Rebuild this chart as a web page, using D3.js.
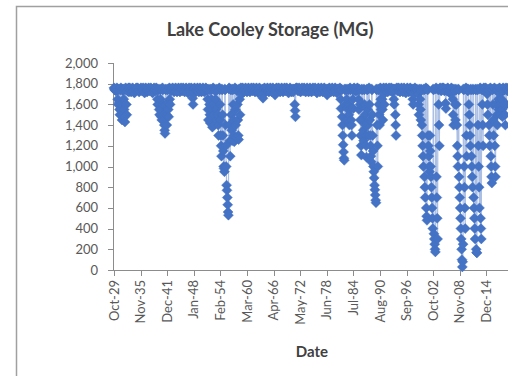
<!DOCTYPE html>
<html>
<head>
<meta charset="utf-8">
<script src="https://cdn.jsdelivr.net/npm/d3@7"></script>
<style>
  html, body { margin: 0; padding: 0; background: #fff; }
  svg { display: block; font-family: Lato, "Open Sans", sans-serif; }
</style>
</head>
<body>
<svg id="chart" width="508" height="376"></svg>
<script>
// monthly storage (MG), first row starts Oct 1929, later rows are Jan..Dec
const firstMonth = "1929-10";
const storageRows = [
  [1760,1750,1740],
  [1750,1740,1730,1740,1750,1760,1740,1650,1600,1750,1740,1620], // 1930
  [1550,1500,1750,1740,1760,1600,1500,1450,1750,1740,1730,1750],
  [1650,1550,1480,1430,1750,1760,1740,1600,1500,1750,1740,1730],
  [1750,1760,1720,1750,1760,1750,1740,1730,1720,1730,1740,1750],
  [1760,1750,1740,1730,1720,1710,1720,1730,1740,1750,1760,1750],
  [1740,1750,1760,1750,1740,1730,1720,1730,1740,1750,1750,1760],
  [1750,1740,1730,1740,1750,1760,1750,1740,1720,1710,1730,1750],
  [1760,1750,1740,1730,1720,1730,1740,1750,1760,1750,1740,1730],
  [1740,1750,1760,1750,1740,1730,1720,1710,1720,1740,1750,1760],
  [1750,1740,1730,1740,1750,1760,1750,1740,1650,1600,1750,1740],
  [1600,1550,1500,1750,1740,1650,1550,1480,1450,1750,1760,1740], // 1940
  [1600,1500,1450,1400,1350,1320,1750,1740,1600,1500,1400,1750],
  [1740,1620,1550,1480,1750,1760,1650,1600,1750,1740,1730,1750],
  [1740,1750,1760,1750,1740,1730,1720,1730,1740,1750,1760,1750],
  [1740,1730,1720,1730,1740,1750,1760,1750,1740,1730,1720,1740],
  [1750,1760,1750,1740,1730,1740,1750,1760,1750,1740,1730,1720],
  [1730,1740,1750,1760,1750,1740,1730,1720,1710,1730,1750,1760],
  [1750,1740,1730,1740,1750,1760,1740,1720,1750,1660,1600,1750],
  [1720,1750,1760,1750,1740,1730,1720,1730,1740,1750,1760,1750],
  [1740,1730,1720,1740,1750,1760,1750,1740,1730,1720,1730,1740],
  [1750,1760,1750,1740,1730,1720,1730,1740,1750,1760,1750,1740], // 1950
  [1750,1740,1650,1550,1450,1750,1740,1600,1500,1420,1750,1740],
  [1650,1550,1450,1380,1750,1760,1600,1500,1400,1750,1740,1730],
  [1650,1550,1450,1750,1740,1600,1500,1400,1300,1750,1760,1740],
  [1600,1450,1300,1200,1100,1750,1740,1500,1300,1150,1000,980],
  [950,1750,1740,1400,1200,1000,820,770,700,630,560,530],
  [1750,1760,1400,1250,1100,1750,1740,1500,1350,1250,1750,1740],
  [1600,1450,1300,1240,1750,1760,1550,1400,1280,1750,1740,1730],
  [1600,1450,1300,1260,1750,1740,1650,1500,1750,1760,1750,1740],
  [1700,1750,1760,1750,1740,1730,1720,1730,1740,1750,1760,1750],
  [1740,1730,1720,1730,1740,1750,1760,1750,1740,1730,1720,1730], // 1960
  [1740,1750,1760,1750,1740,1730,1740,1750,1760,1750,1740,1730],
  [1720,1730,1740,1750,1760,1750,1740,1730,1720,1710,1730,1750],
  [1760,1750,1740,1730,1720,1730,1740,1720,1750,1700,1660,1750],
  [1740,1750,1760,1750,1740,1730,1720,1730,1740,1750,1760,1750],
  [1740,1730,1720,1730,1740,1750,1760,1750,1740,1730,1720,1740],
  [1750,1760,1750,1740,1730,1720,1710,1690,1750,1730,1750,1760],
  [1750,1740,1730,1740,1750,1760,1750,1740,1730,1720,1730,1740],
  [1750,1760,1750,1740,1730,1720,1730,1740,1750,1760,1750,1740],
  [1730,1740,1750,1760,1750,1740,1730,1720,1710,1730,1740,1750],
  [1760,1750,1740,1730,1720,1730,1740,1750,1740,1720,1750,1740], // 1970
  [1750,1600,1540,1480,1750,1760,1750,1760,1750,1740,1730,1740],
  [1750,1760,1750,1740,1730,1720,1730,1740,1750,1760,1750,1740],
  [1730,1740,1750,1760,1750,1740,1730,1720,1730,1740,1750,1760],
  [1750,1740,1730,1720,1730,1740,1750,1760,1750,1740,1730,1720],
  [1730,1740,1750,1760,1750,1740,1730,1740,1750,1760,1750,1740],
  [1730,1720,1710,1730,1740,1750,1760,1750,1740,1730,1720,1730],
  [1740,1750,1760,1750,1740,1730,1720,1730,1740,1750,1760,1750],
  [1740,1730,1720,1730,1740,1750,1690,1750,1740,1710,1730,1750],
  [1760,1750,1740,1730,1720,1730,1740,1750,1760,1750,1740,1730],
  [1720,1730,1740,1750,1760,1750,1740,1730,1720,1710,1730,1750], // 1980
  [1750,1740,1730,1740,1750,1760,1740,1650,1560,1750,1740,1480],
  [1400,1300,1210,1140,1080,1060,1750,1740,1600,1450,1750,1740],
  [1650,1560,1450,1750,1740,1600,1500,1400,1750,1760,1740,1560],
  [1450,1400,1300,1750,1740,1650,1560,1750,1760,1750,1740,1730],
  [1750,1740,1730,1740,1750,1760,1740,1750,1650,1550,1750,1740],
  [1600,1450,1300,1200,1110,1750,1740,1600,1450,1350,1250,1750],
  [1740,1600,1500,1400,1300,1200,1090,1750,1740,1550,1400,1300],
  [1750,1760,1600,1450,1300,1200,1100,1045,1750,1740,1500,1300],
  [1150,1000,950,890,820,775,725,675,650,1750,1740,1400],
  [1200,1000,1750,1740,1600,1500,1400,1750,1760,1650,1550,1750], // 1990
  [1740,1650,1550,1450,1750,1760,1700,1600,1750,1740,1730,1750],
  [1760,1750,1740,1730,1720,1730,1740,1750,1760,1750,1740,1730],
  [1740,1750,1760,1750,1740,1720,1740,1750,1750,1650,1600,1750],
  [1740,1500,1400,1300,1750,1760,1750,1740,1730,1750,1760,1750],
  [1740,1730,1720,1730,1740,1750,1760,1750,1740,1730,1720,1740],
  [1750,1760,1750,1740,1730,1720,1710,1730,1740,1750,1760,1750],
  [1740,1730,1720,1730,1740,1750,1760,1750,1740,1730,1720,1730],
  [1750,1650,1600,1750,1700,1740,1750,1760,1750,1740,1730,1740],
  [1750,1740,1730,1740,1700,1600,1500,1750,1740,1650,1550,1450],
  [1750,1740,1400,1300,1200,1100,1000,1750,1740,900,800,700], // 2000
  [1750,1760,600,520,480,1750,1740,1300,1200,1100,1000,950],
  [1300,1150,1000,900,800,700,600,500,400,1750,1740,350],
  [300,250,200,175,1750,1760,900,700,500,300,1750,1740],
  [1600,1400,1200,1750,1760,1750,1740,1730,1740,1750,1760,1750],
  [1750,1760,1750,1740,1730,1740,1750,1610,1560,1750,1740,1730],
  [1750,1760,1750,1740,1730,1720,1710,1730,1740,1730,1750,1760],
  [1750,1740,1730,1650,1500,1400,1750,1740,1730,1600,1450,1750],
  [1740,1600,1400,1200,1100,1000,1750,1740,900,800,700,600],
  [500,400,300,200,100,30,80,250,1750,1740,1000,800],
  [600,400,1750,1760,1300,1100,1750,1740,1730,1750,1740,1600], // 2010
  [1500,1400,1300,1200,1750,1740,1100,1000,900,800,1750,1740],
  [700,600,500,400,300,1750,1740,200,170,165,1750,1740],
  [1400,1200,1000,800,600,1750,1760,500,400,300,1750,1740],
  [1600,1400,1200,1750,1760,1750,1740,1730,1750,1760,1750,1740],
  [1740,1700,1600,1500,1750,1740,1400,1300,1200,1750,1760,1100],
  [1000,900,840,1750,1740,1600,1450,1300,1750,1760,1200,1000],
  [900,1750,1740,1600,1500,1400,1750,1740,1650,1550,1750,1760],
  [1700,1600,1500,1750,1740,1650,1550,1480,1750,1760,1740,1600],
  [1750,1740,1500,1400,1750,1760,1600,1750,1740,1730,1750,1760],
  [1750,1740,1730,1720,1740,1750,1760,1750,1740,1730,1720,1740]  // 2020
];

const tickMonths = ["1929-10","1935-11","1941-12","1948-01","1954-02","1960-03","1966-04",
  "1972-05","1978-06","1984-07","1990-08","1996-09","2002-10","2008-11","2014-12"];
const tickLabels = ["Oct-29","Nov-35","Dec-41","Jan-48","Feb-54","Mar-60","Apr-66",
  "May-72","Jun-78","Jul-84","Aug-90","Sep-96","Oct-02","Nov-08","Dec-14"];
const axisEndMonth = "2021-01";
const yTicks = [0, 200, 400, 600, 800, 1000, 1200, 1400, 1600, 1800, 2000];

const parseMonth = d3.timeParse("%Y-%m");
const start = parseMonth(firstMonth);
const data = storageRows.flat().map((v, i) => ({date: d3.timeMonth.offset(start, i), value: v}));
const tickDates = tickMonths.map(parseMonth);

const margin = {left: 114, top: 63, bottom: 270};
const x = d3.scaleTime().domain([tickDates[0], parseMonth(axisEndMonth)]).range([margin.left, 513]);
const y = d3.scaleLinear().domain([0, 2000]).range([margin.bottom, margin.top]);

const svg = d3.select("#chart");
const blue = "#4472c4";
const textColor = "#595959";
const axisColor = "#8c8c8c";

// chart frame (runs past the right and bottom edges)
svg.append("rect")
  .attr("x", 16.5).attr("y", 6.5)
  .attr("width", 600).attr("height", 400)
  .attr("fill", "#fff")
  .attr("stroke", "#a0a0a0")
  .attr("stroke-width", 1.5);

svg.append("text")
  .attr("x", 270).attr("y", 36)
  .attr("text-anchor", "middle")
  .attr("font-weight", "bold")
  .attr("font-size", 18)
  .attr("fill", "#404040")
  .text("Lake Cooley Storage (MG)");

// y axis
const yAxis = svg.append("g");
yAxis.append("line")
  .attr("x1", margin.left - 0.5).attr("x2", margin.left - 0.5)
  .attr("y1", y(2000)).attr("y2", y(0))
  .attr("stroke", axisColor);
yAxis.selectAll(".tick")
  .data(yTicks)
  .enter()
  .append("line")
  .attr("x1", margin.left - 6).attr("x2", margin.left)
  .attr("y1", d => Math.round(y(d)) + 0.5).attr("y2", d => Math.round(y(d)) + 0.5)
  .attr("stroke", axisColor);
yAxis.selectAll("text")
  .data(yTicks)
  .enter()
  .append("text")
  .attr("x", 98)
  .attr("y", d => y(d))
  .attr("dy", "0.35em")
  .attr("text-anchor", "end")
  .attr("font-size", 13)
  .attr("fill", textColor)
  .text(d => d3.format(",")(d));

// x axis
const xAxis = svg.append("g");
xAxis.append("line")
  .attr("x1", margin.left - 6).attr("x2", 520)
  .attr("y1", margin.bottom + 0.5).attr("y2", margin.bottom + 0.5)
  .attr("stroke", axisColor);
xAxis.selectAll(".tick")
  .data(tickDates)
  .enter()
  .append("line")
  .attr("x1", d => Math.round(x(d)) + 0.5).attr("x2", d => Math.round(x(d)) + 0.5)
  .attr("y1", margin.bottom).attr("y2", margin.bottom + 6)
  .attr("stroke", axisColor);
xAxis.selectAll("text")
  .data(tickDates)
  .enter()
  .append("text")
  .attr("transform", d => `translate(${x(d)},${margin.bottom + 10}) rotate(-90)`)
  .attr("dy", "0.35em")
  .attr("text-anchor", "end")
  .attr("font-size", 13)
  .attr("fill", textColor)
  .text((d, i) => tickLabels[i]);

svg.append("text")
  .attr("x", 312).attr("y", 357)
  .attr("text-anchor", "middle")
  .attr("font-weight", "bold")
  .attr("font-size", 15)
  .attr("fill", "#404040")
  .text("Date");

// series
const line = d3.line()
  .x(d => x(d.date))
  .y(d => y(d.value));

svg.append("path")
  .datum(data)
  .attr("d", line)
  .attr("fill", "none")
  .attr("stroke", blue)
  .attr("stroke-opacity", 0.45)
  .attr("stroke-width", 1.2);

const r = 5;
svg.append("g")
  .selectAll("path")
  .data(data)
  .enter()
  .append("path")
  .attr("transform", d => `translate(${x(d.date)},${y(d.value)})`)
  .attr("d", `M0,${-r}L${r},0L0,${r}L${-r},0Z`)
  .attr("fill", blue)
  .attr("stroke", blue)
  .attr("stroke-width", 0.5);
</script>
</body>
</html>
